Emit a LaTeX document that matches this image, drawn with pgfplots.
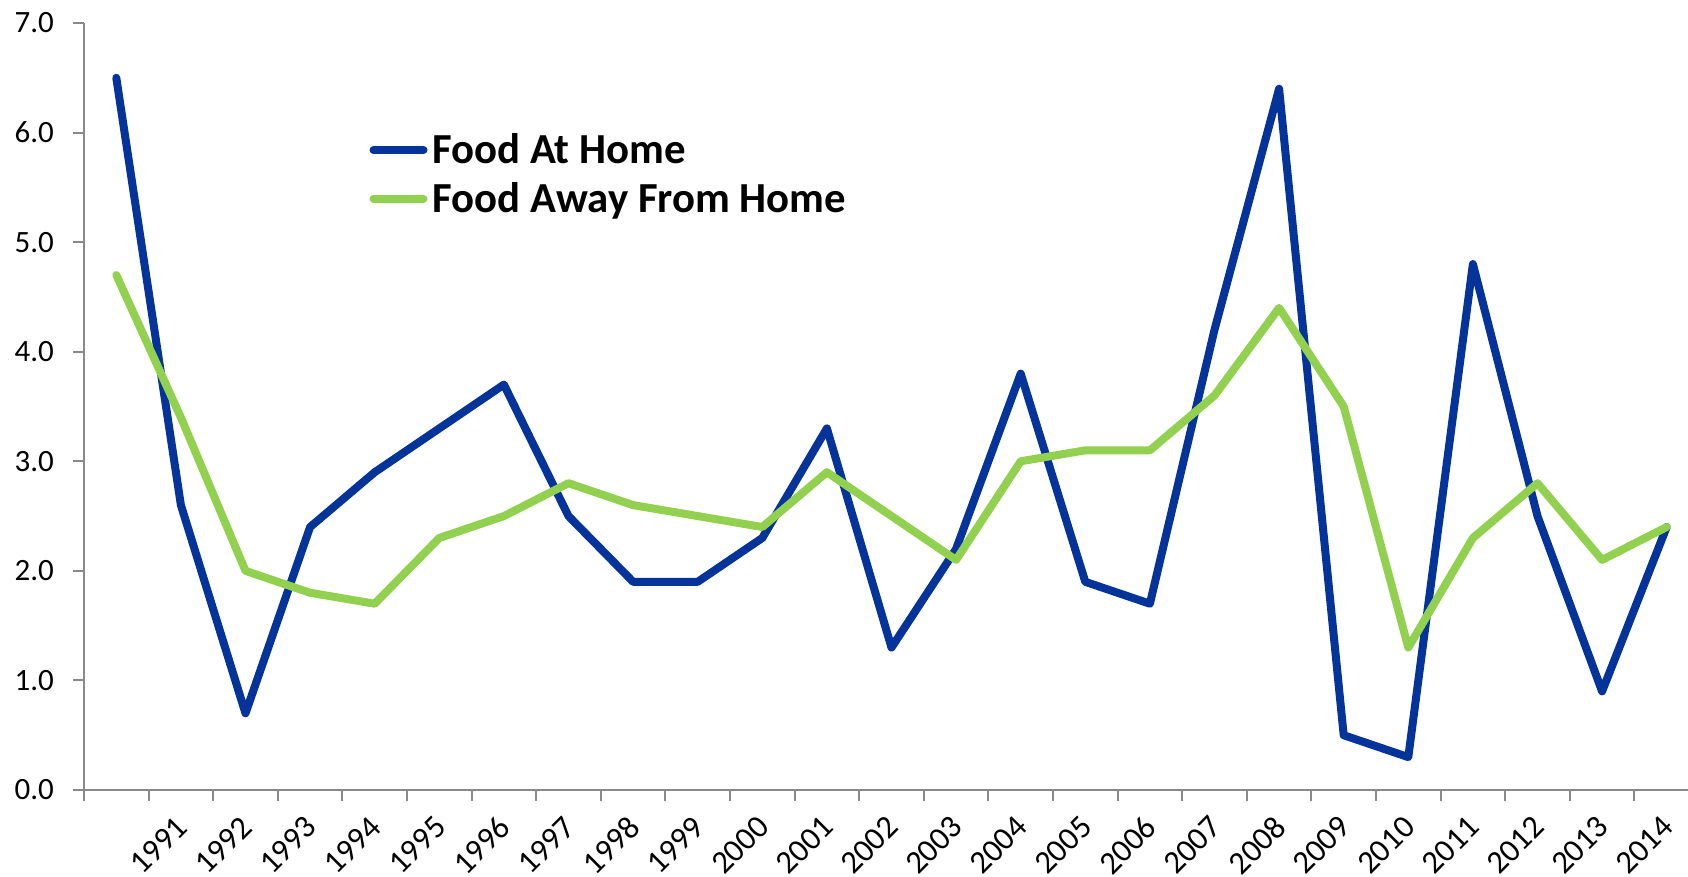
\documentclass[border=0pt]{standalone}
\usepackage{fontspec}
\setmainfont{Carlito}
\usepackage{pgfplots}
\pgfplotsset{compat=1.18}

\definecolor{homeblue}{RGB}{4,51,153}
\definecolor{awaygreen}{RGB}{146,208,80}
\definecolor{axisgray}{RGB}{137,137,137}

% annual change, 1990-2014 (first category has no label in the original)
\pgfplotstableread{
x  home  away
0  6.5   4.7
1  2.6   3.4
2  0.7   2.0
3  2.4   1.8
4  2.9   1.7
5  3.3   2.3
6  3.7   2.5
7  2.5   2.8
8  1.9   2.6
9  1.9   2.5
10 2.3   2.4
11 3.3   2.9
12 1.3   2.5
13 2.2   2.1
14 3.8   3.0
15 1.9   3.1
16 1.7   3.1
17 4.2   3.6
18 6.4   4.4
19 0.5   3.5
20 0.3   1.3
21 4.8   2.3
22 2.5   2.8
23 0.9   2.1
24 2.4   2.4
}\foodtable

\begin{document}
\begin{tikzpicture}
\useasboundingbox (-42pt,-43.5pt) rectangle (802pt,395pt);
\begin{axis}[
  at={(0,0)},anchor=south west,
  scale only axis,width=802pt,height=383.5pt,
  xmin=-0.5,xmax=24.33,ymin=0,ymax=7,
  clip=false,
  axis x line*=bottom,axis y line*=left,
  axis line style={axisgray,line width=1pt},
  every tick/.style={axisgray,line width=1pt},
  tick align=outside,
  xtick={1,...,24},
  xticklabels={1991,1992,1993,1994,1995,1996,1997,1998,1999,2000,2001,2002,2003,2004,2005,2006,2007,2008,2009,2010,2011,2012,2013,2014},
  major x tick style={draw=none},
  minor xtick={-0.5,0.5,...,23.5},
  minor tick length=5.5pt,
  ytick={0,1,...,7},
  major tick length=5.5pt,
  /pgf/number format/assume math mode=true,
  tick label style={font=\fontsize{15.5}{18}\selectfont,black},
  yticklabel style={/pgf/number format/fixed,/pgf/number format/fixed zerofill,
    /pgf/number format/precision=1,xshift=-6pt},
  xticklabel style={font=\fontsize{16.2}{19}\selectfont,
    xshift=3pt,yshift=-8pt,rotate=45,anchor=east},
  legend style={at={(rel axis cs:0.178,0.852)},anchor=north west,
    draw=none,fill=none,inner sep=0pt,outer sep=0pt,
    font=\fontsize{21.4}{24}\selectfont\bfseries,
    row sep=10.5pt,column sep=2.5pt,
    nodes={inner sep=0pt,text height=13.7pt,text depth=0pt}},
  legend cell align=left,
  legend image code/.code={\draw[#1,line cap=round] (0pt,0pt) -- (25pt,0pt);},
]
\addplot[homeblue,line width=4pt,line join=round,line cap=round] table[x=x,y=home] {\foodtable};
\addlegendentry{Food At Home}
\addplot[awaygreen,line width=4pt,line join=round,line cap=round] table[x=x,y=away] {\foodtable};
\addlegendentry{Food Away From Home}
\end{axis}
\end{tikzpicture}
\end{document}
